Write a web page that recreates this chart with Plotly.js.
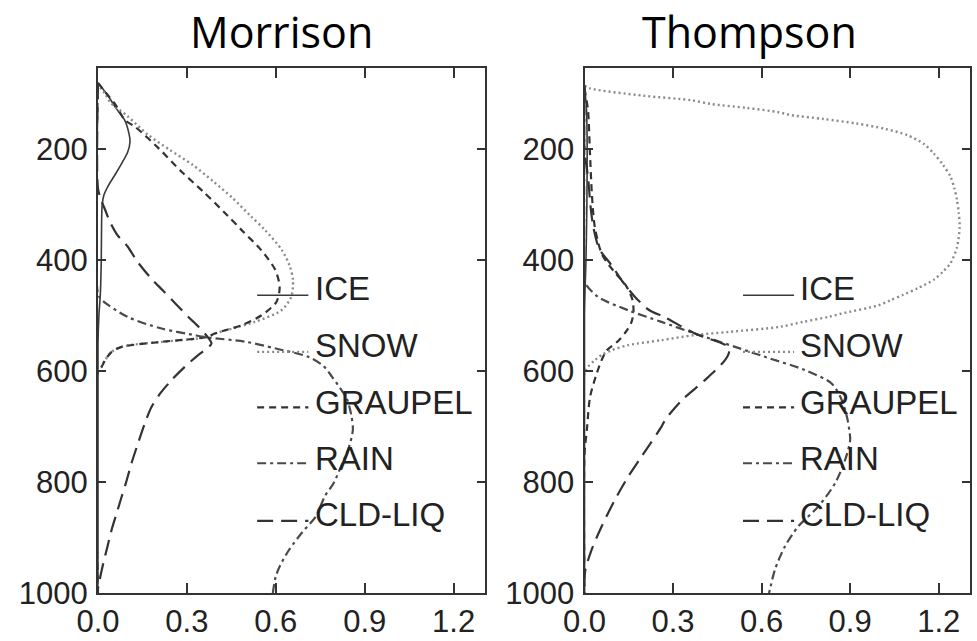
<!DOCTYPE html>
<html>
<head>
<meta charset="utf-8">
<script src="https://cdn.plot.ly/plotly-3.0.1.min.js"></script>
<style>html,body{margin:0;padding:0;background:#fff;}#chart{width:977px;height:641px;}</style>
</head>
<body>
<div id="chart"></div>
<script>
// ---------- DATA (mixing ratio vs pressure) ----------
const panelTitles = ['Morrison', 'Thompson'];
const seriesNames = ['ICE', 'SNOW', 'GRAUPEL', 'RAIN', 'CLD-LIQ'];
const xTickVals = [0.0, 0.3, 0.6, 0.9, 1.2];
const yTickVals = [200, 400, 600, 800, 1000];

// Morrison
const morIceP = [80, 100, 125, 147, 170, 186, 205, 225, 246, 265, 282, 300, 340, 400, 460, 500, 550, 1000];
const morIceX = [0, 0.03, 0.06, 0.09, 0.104, 0.108, 0.1, 0.08, 0.057, 0.035, 0.02, 0.014, 0.012, 0.011, 0.008, 0.003, 0, 0];

const morSnowP = [80, 90, 100, 114, 140, 174, 200, 228, 258, 288, 320, 345, 381, 410, 436, 466, 490, 511, 522, 532, 538, 547, 552, 556, 565, 580, 592, 600, 1000];
const morSnowX = [0, 0.01, 0.025, 0.04, 0.1, 0.17, 0.24, 0.32, 0.39, 0.455, 0.515, 0.563, 0.62, 0.647, 0.658, 0.652, 0.619, 0.529, 0.46, 0.394, 0.37, 0.215, 0.12, 0.08, 0.046, 0.024, 0.012, 0, 0];

const morGraupelP = [80, 100, 120, 147, 159, 198, 240, 276, 318, 345, 381, 417, 448, 475, 499, 517, 532, 538, 547, 556, 565, 580, 592, 600, 1000];
const morGraupelX = [0, 0.03, 0.06, 0.091, 0.125, 0.205, 0.282, 0.355, 0.435, 0.484, 0.55, 0.598, 0.613, 0.602, 0.552, 0.484, 0.394, 0.37, 0.215, 0.08, 0.046, 0.024, 0.012, 0, 0];

const morRainP = [80, 460, 471, 502, 523, 535, 539, 547, 559, 574, 590, 610, 625, 650, 680, 706, 740, 772, 802, 826, 862, 890, 922, 950, 970, 1000];
const morRainX = [0, 0, 0.012, 0.1, 0.215, 0.327, 0.37, 0.5, 0.6, 0.71, 0.76, 0.79, 0.81, 0.84, 0.855, 0.86, 0.845, 0.82, 0.795, 0.765, 0.735, 0.69, 0.645, 0.615, 0.6, 0.59];

const morCldP = [80, 270, 290, 310, 330, 354, 375, 400, 430, 455, 480, 502, 520, 535, 550, 558, 570, 592, 615, 640, 665, 694, 730, 766, 800, 826, 856, 886, 916, 946, 975, 992];
const morCldX = [0, 0, 0.01, 0.025, 0.04, 0.065, 0.1, 0.13, 0.175, 0.22, 0.265, 0.305, 0.34, 0.365, 0.383, 0.37, 0.34, 0.293, 0.25, 0.21, 0.18, 0.158, 0.135, 0.113, 0.095, 0.08, 0.063, 0.046, 0.032, 0.018, 0.006, 0];

// Thompson
const thoIceP = [85, 130, 200, 300, 400, 450, 500, 1000];
const thoIceX = [0, 0.007, 0.009, 0.008, 0.005, 0.002, 0, 0];

const thoSnowP = [85, 90, 103, 111, 118, 125, 133, 138, 145, 153, 163, 174, 190, 207, 228, 249, 270, 291, 315, 340, 376, 405, 420, 435, 450, 462, 472, 481, 496, 502, 511, 520, 529, 535, 544, 553, 562, 570, 580, 595, 605, 1000];
const thoSnowX = [0, 0.02, 0.2, 0.36, 0.43, 0.55, 0.66, 0.7, 0.81, 0.92, 1.02, 1.093, 1.15, 1.183, 1.215, 1.24, 1.253, 1.262, 1.268, 1.271, 1.262, 1.24, 1.215, 1.183, 1.13, 1.08, 1.036, 0.996, 0.87, 0.826, 0.74, 0.66, 0.49, 0.37, 0.26, 0.148, 0.092, 0.06, 0.035, 0.007, 0, 0];

const thoGraupelP = [90, 130, 200, 280, 340, 390, 420, 445, 470, 490, 510, 526, 545, 562, 580, 603, 646, 706, 750, 1000];
const thoGraupelX = [0, 0.012, 0.018, 0.025, 0.035, 0.06, 0.1, 0.14, 0.162, 0.166, 0.16, 0.144, 0.115, 0.076, 0.058, 0.042, 0.019, 0.008, 0, 0];

const thoRainP = [85, 430, 441, 466, 490, 511, 532, 556, 574, 598, 622, 650, 682, 706, 724, 760, 802, 844, 880, 916, 958, 994, 1000];
const thoRainX = [0, 0, 0.002, 0.046, 0.148, 0.261, 0.374, 0.51, 0.611, 0.747, 0.837, 0.87, 0.889, 0.897, 0.9, 0.883, 0.849, 0.792, 0.724, 0.679, 0.645, 0.628, 0.625];

const thoCldP = [85, 200, 250, 300, 340, 379, 409, 439, 466, 490, 502, 532, 556, 565, 580, 616, 652, 688, 700, 754, 790, 832, 880, 922, 958, 975];
const thoCldX = [0, 0, 0.012, 0.02, 0.03, 0.05, 0.092, 0.13, 0.171, 0.22, 0.27, 0.374, 0.487, 0.49, 0.476, 0.408, 0.33, 0.273, 0.261, 0.193, 0.148, 0.103, 0.058, 0.024, 0.003, 0];

// legend sample positions (pressure levels for each legend row)
const legendLineP = [463, 565, 665, 766, 870];
const legendTextP = [451, 554, 657, 757, 859];

// ---------- STYLES ----------
const styles = [
  {color: '#3a3a3a', width: 1.6, dash: 'solid'},
  {color: '#8a8a8a', width: 2.4, dash: '2px,3px'},
  {color: '#333333', width: 2.2, dash: '7px,5px'},
  {color: '#4a4a4a', width: 2.2, dash: '9px,4px,3px,4px'},
  {color: '#333333', width: 2.2, dash: '16px,8px'}
];

const morData = [[morIceX, morIceP], [morSnowX, morSnowP], [morGraupelX, morGraupelP], [morRainX, morRainP], [morCldX, morCldP]];
const thoData = [[thoIceX, thoIceP], [thoSnowX, thoSnowP], [thoGraupelX, thoGraupelP], [thoRainX, thoRainP], [thoCldX, thoCldP]];

const traces = [];
[morData, thoData].forEach((panel, pi) => {
  panel.forEach((d, si) => {
    traces.push({
      x: d[0], y: d[1], type: 'scatter', mode: 'lines',
      name: seriesNames[si], showlegend: false,
      line: Object.assign({shape: 'spline', smoothing: 0.8}, styles[si]),
      xaxis: pi === 0 ? 'x' : 'x2', yaxis: pi === 0 ? 'y' : 'y2',
      hoverinfo: 'skip'
    });
  });
});

const shapes = [];
const annotations = [];
['x', 'x2'].forEach((xr, pi) => {
  const yr = pi === 0 ? 'y' : 'y2';
  seriesNames.forEach((nm, si) => {
    shapes.push({type: 'line', xref: xr, yref: yr, x0: 0.537, x1: 0.71, y0: legendLineP[si], y1: legendLineP[si],
      line: {color: styles[si].color, width: styles[si].width, dash: styles[si].dash}});
    annotations.push({xref: xr, yref: yr, x: 0.724, y: legendTextP[si], text: nm, showarrow: false,
      xanchor: 'left', yanchor: 'middle', font: {family: 'Liberation Sans, Arial, sans-serif', size: 33, color: '#222'}});
  });
});
annotations.push({xref: 'paper', yref: 'paper', x: 281 / 977, y: 1 - 31 / 641, text: panelTitles[0], showarrow: false,
  xanchor: 'center', yanchor: 'middle', borderpad: 0, font: {family: 'Open Sans, sans-serif', size: 43, color: '#000'}});
annotations.push({xref: 'paper', yref: 'paper', x: 749 / 977, y: 1 - 31 / 641, text: panelTitles[1], showarrow: false,
  xanchor: 'center', yanchor: 'middle', borderpad: 0, font: {family: 'Open Sans, sans-serif', size: 43, color: '#000'}});

const tickFont = {family: 'Liberation Sans, Arial, sans-serif', size: 31, color: '#222'};
function xax(domain, anchor) {
  return {domain: domain, anchor: anchor, range: [0, 1.306], tickvals: xTickVals, ticktext: xTickVals.map(v => v.toFixed(1)),
    ticks: 'inside', ticklen: 10, tickwidth: 2, tickcolor: '#333', showline: true, linecolor: '#333', linewidth: 2,
    mirror: 'allticks', showgrid: false, zeroline: false, tickfont: tickFont, ticklabelstandoff: 0, fixedrange: true};
}
function yax(anchor) {
  return {domain: [48 / 641, 573 / 641], anchor: anchor, range: [1000, 53], tickvals: yTickVals,
    ticks: 'inside', ticklen: 8, tickwidth: 2, tickcolor: '#333', showline: true, linecolor: '#333', linewidth: 2,
    mirror: 'allticks', showgrid: false, zeroline: false, tickfont: tickFont, ticklabelstandoff: 2, fixedrange: true};
}

const layout = {
  width: 977, height: 641,
  margin: {l: 0, r: 0, t: 0, b: 0},
  paper_bgcolor: '#fff', plot_bgcolor: '#fff',
  showlegend: false,
  xaxis: xax([98 / 977, 485 / 977], 'y'),
  yaxis: yax('x'),
  xaxis2: xax([584.5 / 977, 970 / 977], 'y2'),
  yaxis2: yax('x2'),
  shapes: shapes,
  annotations: annotations
};

Plotly.newPlot('chart', traces, layout, {displayModeBar: false, staticPlot: true});
</script>
</body>
</html>
